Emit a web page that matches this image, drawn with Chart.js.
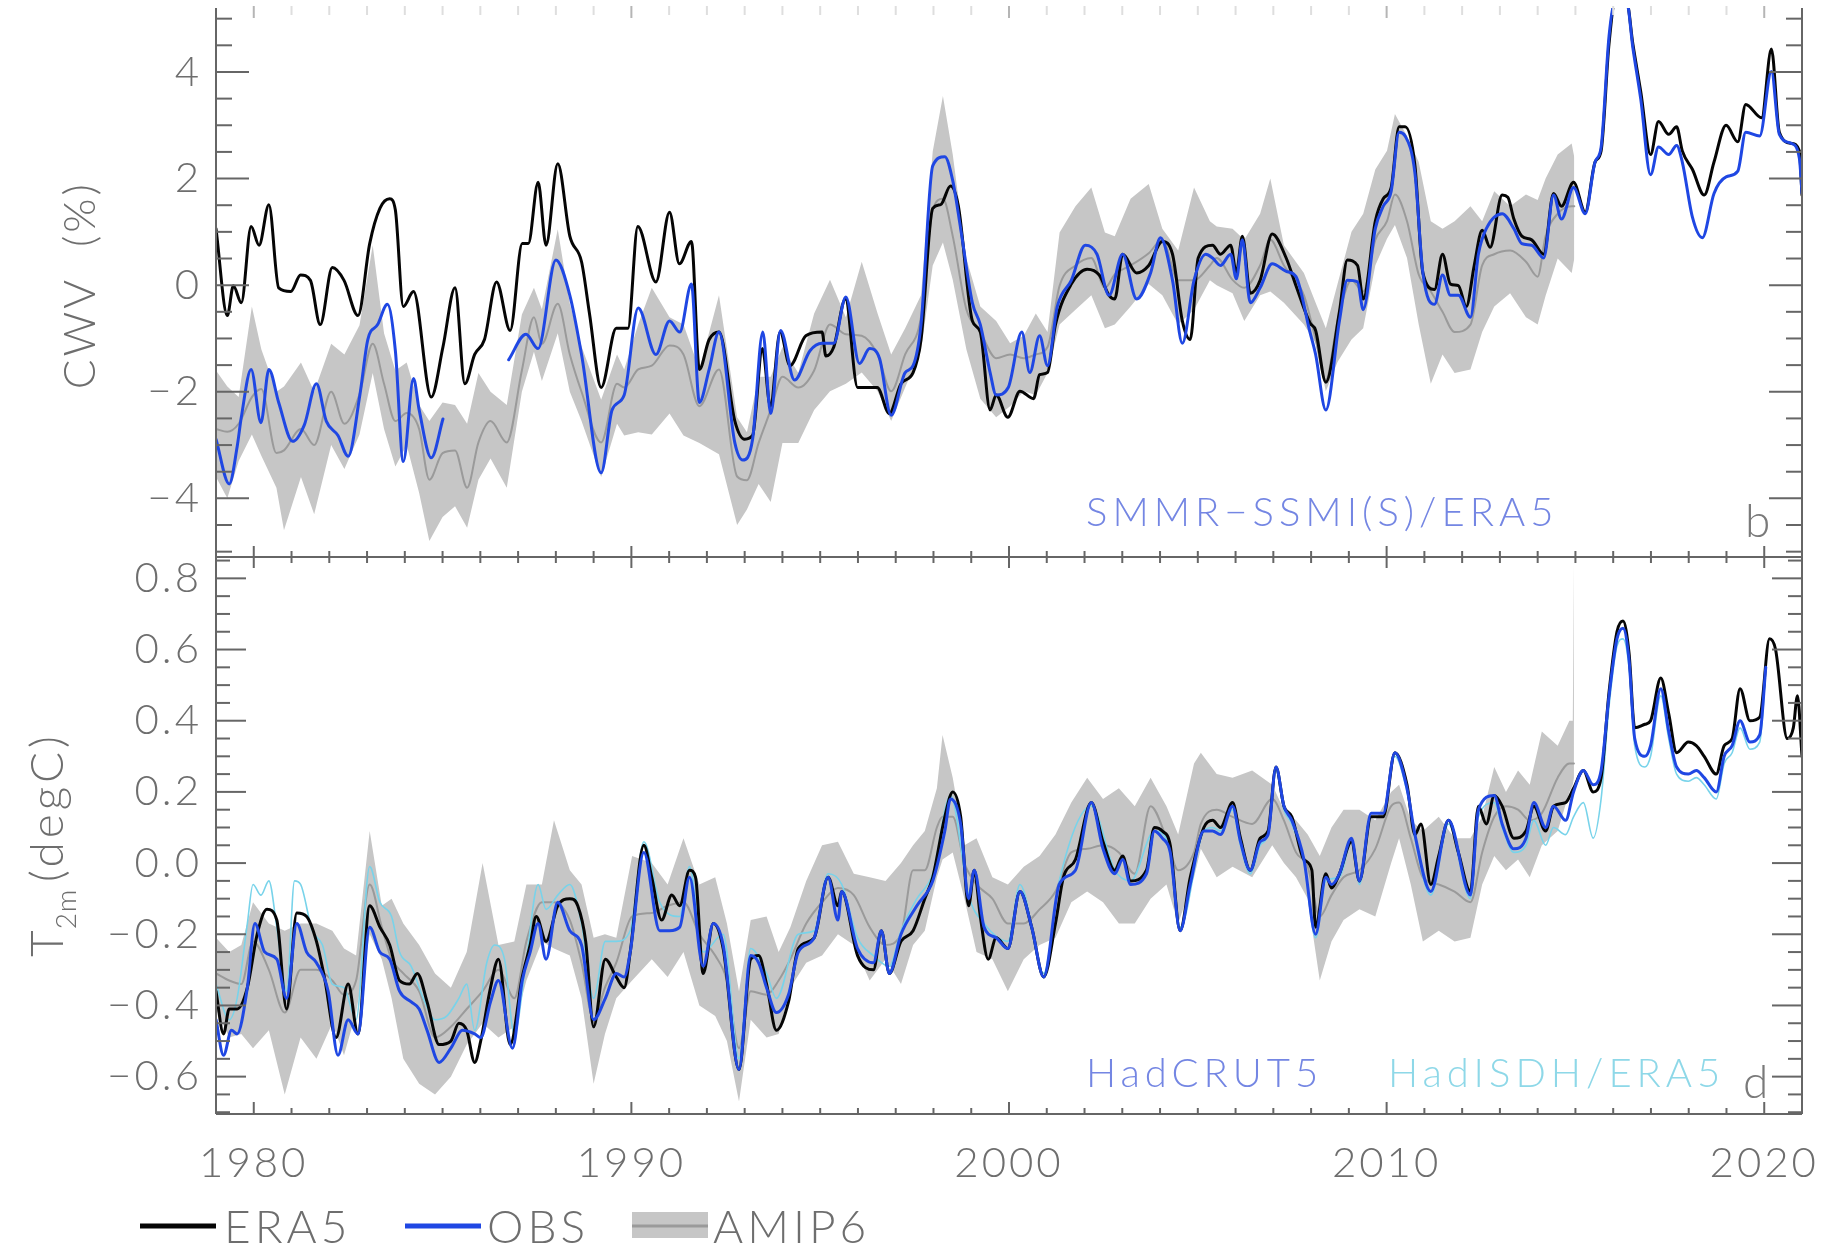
<!DOCTYPE html>
<html>
<head>
<meta charset="utf-8">
<title>CWV and T2m anomalies</title>
<script src="https://cdn.jsdelivr.net/npm/chart.js@4.4.1/dist/chart.umd.min.js"></script>
<style>
  html, body { margin: 0; padding: 0; background: #ffffff; }
  canvas { display: block; }
</style>
</head>
<body>
<canvas id="chart" width="1821" height="1246"></canvas>
<script>
// ---- axis ranges and tick labels ----
const YEAR_MIN = 1979, YEAR_MAX = 2021;
const yearTicks = [1980, 1990, 2000, 2010, 2020];
const cwvRange = [-5.1, 5.2];
const cwvTicks = [-4, -2, 0, 2, 4];
const t2mRange = [-0.705, 0.86];
const t2mTicks = [-0.6, -0.4, -0.2, 0.0, 0.2, 0.4, 0.6, 0.8];
const legendLabels = ['ERA5', 'OBS', 'AMIP6'];

// ---- panel b: column water vapour anomaly (%), [year, value] ----
const cwvEra5 = [[1979.0,1.06],[1979.3,-0.57],[1979.46,-0.01],[1979.67,-0.33],[1979.93,1.10],[1980.14,0.75],[1980.4,1.51],[1980.66,-0.05],[1980.98,-0.12],[1981.24,0.19],[1981.5,0.09],[1981.76,-0.74],[1982.08,0.33],[1982.39,0.09],[1982.76,-0.57],[1983.07,0.78],[1983.34,1.44],[1983.6,1.62],[1983.75,1.41],[1983.96,-0.40],[1984.23,-0.12],[1984.7,-2.10],[1985.01,-1.16],[1985.33,-0.05],[1985.59,-1.85],[1985.85,-1.30],[1986.11,-1.02],[1986.43,0.06],[1986.79,-0.85],[1987.11,0.78],[1987.27,0.78],[1987.53,1.93],[1987.74,0.75],[1988.05,2.28],[1988.37,0.92],[1988.68,0.44],[1988.89,-0.53],[1989.2,-1.92],[1989.6,-0.81],[1989.91,-0.81],[1990.17,1.10],[1990.65,0.06],[1991.01,1.37],[1991.27,0.40],[1991.59,0.82],[1991.8,-1.58],[1992.06,-1.02],[1992.32,-0.88],[1992.74,-2.55],[1993.0,-2.89],[1993.21,-2.82],[1993.47,-1.19],[1993.68,-2.27],[1993.94,-0.88],[1994.2,-1.51],[1994.62,-0.95],[1995.05,-0.88],[1995.15,-1.33],[1995.36,-1.16],[1995.67,-0.26],[1995.99,-1.92],[1996.51,-1.92],[1996.83,-2.41],[1997.14,-1.85],[1997.46,-1.64],[1997.67,-1.02],[1997.98,1.44],[1998.19,1.51],[1998.45,1.86],[1998.66,1.48],[1999.03,-0.67],[1999.24,-0.88],[1999.5,-2.34],[1999.66,-2.06],[1999.97,-2.48],[2000.29,-1.99],[2000.65,-2.13],[2000.81,-1.68],[2001.02,-1.64],[2001.23,-0.74],[2001.65,0.02],[2002.07,0.30],[2002.39,0.19],[2002.65,-0.19],[2002.8,-0.26],[2003.01,0.58],[2003.38,0.23],[2003.7,0.37],[2004.06,0.82],[2004.33,0.58],[2004.59,-0.67],[2004.8,-1.02],[2005.01,0.51],[2005.39,0.75],[2005.6,0.58],[2005.87,0.75],[2006.02,0.23],[2006.18,0.92],[2006.39,-0.15],[2006.65,0.09],[2006.97,0.96],[2007.34,0.51],[2007.6,-0.01],[2007.97,-0.71],[2008.12,-0.85],[2008.39,-1.82],[2008.75,-0.50],[2008.96,0.47],[2009.23,0.37],[2009.38,-0.26],[2009.7,1.20],[2009.91,1.62],[2010.12,1.83],[2010.33,2.97],[2010.49,2.97],[2010.75,2.24],[2010.96,0.23],[2011.27,-0.08],[2011.48,0.58],[2011.69,0.02],[2011.9,-0.01],[2012.11,-0.40],[2012.32,0.37],[2012.53,1.03],[2012.74,0.71],[2013.06,1.69],[2013.21,1.65],[2013.37,1.24],[2013.58,0.92],[2013.84,0.85],[2014.16,0.58],[2014.42,1.72],[2014.63,1.48],[2014.95,1.93],[2015.26,1.37],[2015.52,2.31],[2015.68,2.52],[2015.89,4.53],[2016.05,5.3],[2016.36,5.3],[2016.52,4.53],[2016.73,3.63],[2016.99,2.45],[2017.2,3.07],[2017.47,2.83],[2017.68,2.97],[2017.83,2.52],[2018.1,2.17],[2018.41,1.69],[2018.67,2.31],[2018.99,3.00],[2019.3,2.69],[2019.51,3.39],[2019.93,3.14],[2020.19,4.43],[2020.4,2.87],[2020.72,2.66],[2020.93,2.52],[2021.0,1.69]];

const cwvObs = [[1979.0,-2.89],[1979.35,-3.73],[1979.56,-3.03],[1979.67,-2.48],[1979.93,-1.58],[1980.19,-2.58],[1980.4,-1.58],[1980.66,-2.20],[1981.03,-2.93],[1981.34,-2.62],[1981.66,-1.85],[1981.92,-2.55],[1982.23,-2.82],[1982.5,-3.21],[1982.81,-2.06],[1983.02,-1.02],[1983.28,-0.74],[1983.54,-0.36],[1983.75,-1.23],[1983.96,-3.31],[1984.23,-1.75],[1984.38,-2.34],[1984.7,-3.24],[1985.01,-2.51],[1985.5,null],[1986.75,-1.40],[1987.21,-0.92],[1987.53,-1.19],[1988.0,0.47],[1988.37,-0.19],[1988.68,-1.30],[1989.2,-3.52],[1989.49,-2.34],[1989.81,-2.06],[1990.18,-0.43],[1990.65,-1.30],[1991.01,-0.67],[1991.28,-0.88],[1991.59,0.02],[1991.8,-2.20],[1992.06,-1.58],[1992.32,-0.88],[1992.74,-2.96],[1992.95,-3.28],[1993.21,-2.89],[1993.48,-0.88],[1993.69,-2.41],[1993.95,-0.85],[1994.32,-1.78],[1994.73,-1.23],[1995.05,-1.09],[1995.36,-1.09],[1995.68,-0.22],[1996.04,-1.47],[1996.31,-1.19],[1996.57,-1.37],[1996.88,-2.44],[1997.25,-1.64],[1997.46,-1.51],[1997.67,-0.74],[1997.98,2.24],[1998.3,2.41],[1998.51,1.96],[1998.72,1.06],[1999.03,-0.33],[1999.24,-0.74],[1999.5,-1.64],[1999.66,-2.06],[1999.98,-1.92],[2000.34,-0.88],[2000.55,-1.64],[2000.81,-0.95],[2001.02,-1.51],[2001.28,-0.40],[2001.65,0.09],[2002.02,0.75],[2002.33,0.58],[2002.65,-0.19],[2003.01,0.58],[2003.38,-0.26],[2003.75,0.23],[2004.01,0.89],[2004.33,0.09],[2004.59,-1.09],[2004.9,0.09],[2005.21,0.58],[2005.39,0.51],[2005.6,0.37],[2005.87,0.58],[2006.02,0.12],[2006.18,0.85],[2006.39,-0.33],[2006.65,-0.05],[2006.97,0.40],[2007.34,0.26],[2007.6,0.16],[2007.97,-0.88],[2008.12,-1.30],[2008.39,-2.34],[2008.75,-0.67],[2008.96,0.09],[2009.23,0.06],[2009.38,-0.46],[2009.7,1.06],[2009.91,1.48],[2010.12,1.76],[2010.33,2.87],[2010.49,2.80],[2010.75,2.10],[2010.96,0.23],[2011.27,-0.36],[2011.48,0.19],[2011.69,-0.19],[2011.9,-0.19],[2012.22,-0.60],[2012.43,0.58],[2012.64,1.06],[2013.06,1.34],[2013.37,1.06],[2013.58,0.78],[2013.84,0.75],[2014.16,0.51],[2014.42,1.69],[2014.63,1.24],[2014.95,1.83],[2015.26,1.34],[2015.52,2.31],[2015.68,2.59],[2015.89,4.67],[2016.05,5.3],[2016.36,5.3],[2016.52,4.46],[2016.73,3.49],[2016.99,2.07],[2017.2,2.59],[2017.47,2.45],[2017.68,2.62],[2017.83,2.31],[2018.1,1.27],[2018.36,0.89],[2018.67,1.72],[2018.99,2.03],[2019.3,2.14],[2019.51,2.87],[2019.88,2.80],[2020.19,4.01],[2020.4,2.83],[2020.72,2.66],[2020.93,2.38],[2021.0,1.72]];

// AMIP6 ensemble: [year, minimum, mean, maximum]
const cwvAmip = [[1979.0,-3.6,-2.7,-1.6],[1979.3,-4.0,-2.75,-1.9],[1979.6,-3.3,-2.6,-2.1],[1979.95,-2.8,-2.1,-0.4],[1980.2,-3.2,-1.95,-1.2],[1980.6,-3.8,-3.15,-2.0],[1980.8,-4.6,-3.1,-1.9],[1981.25,-3.6,-2.7,-1.45],[1981.6,-4.3,-3.0,-2.0],[1982.05,-3.0,-2.0,-1.1],[1982.4,-3.45,-2.6,-1.3],[1982.8,-2.8,-2.05,-0.75],[1983.15,-1.65,-1.1,0.75],[1983.45,-2.7,-1.85,-0.9],[1983.75,-3.4,-2.55,-1.6],[1984.05,-3.0,-2.4,-1.45],[1984.38,-3.9,-2.7,-2.25],[1984.65,-4.8,-3.65,-2.55],[1985.0,-4.35,-3.15,-2.2],[1985.33,-4.15,-3.1,-2.25],[1985.65,-4.55,-3.8,-2.6],[1985.95,-3.65,-2.95,-1.65],[1986.27,-3.25,-2.55,-2.0],[1986.7,-3.8,-2.95,-2.25],[1987.1,-2.0,-1.6,-0.55],[1987.42,-1.25,-0.6,-0.05],[1987.63,-1.8,-1.1,-0.45],[1988.05,-0.9,-0.35,1.05],[1988.37,-2.0,-1.3,-0.35],[1988.68,-2.55,-2.0,-1.15],[1989.2,-3.6,-2.95,-2.15],[1989.62,-2.6,-1.85,-1.3],[1989.81,-2.82,-1.92,-1.58],[1990.18,-2.76,-1.58,-0.74],[1990.54,-2.8,-1.51,-0.05],[1991.01,-2.41,-1.13,-0.6],[1991.38,-2.82,-1.3,-0.74],[1991.8,-2.96,-2.27,-1.58],[1992.32,-3.17,-1.58,-0.19],[1992.8,-4.5,-3.59,-2.48],[1993.06,-4.21,-3.66,-2.76],[1993.37,-3.73,-2.96,-1.72],[1993.69,-4.07,-2.34,-1.72],[1994.0,-2.96,-1.72,-1.16],[1994.42,-2.96,-1.92,-1.65],[1994.84,-2.34,-1.6,-0.53],[1995.26,-1.99,-0.74,0.1],[1995.68,-1.85,-0.92,-0.6],[1996.1,-1.64,-0.95,0.44],[1996.52,-1.99,-1.3,-0.53],[1996.88,-2.55,-1.99,-1.3],[1997.25,-1.92,-1.3,-0.81],[1997.67,-1.23,-0.6,-0.19],[1997.98,0.37,1.41,2.51],[1998.25,0.8,1.62,3.55],[1998.51,0.1,0.92,2.45],[1998.87,-1.2,-0.45,0.5],[1999.24,-2.13,-0.88,-0.4],[1999.66,-2.48,-1.37,-0.67],[2000.03,-2.27,-1.3,-1.09],[2000.39,-1.99,-1.37,-0.95],[2000.71,-2.06,-1.3,-0.53],[2001.02,-1.65,-1.16,-0.88],[2001.34,-0.74,-0.01,0.99],[2001.76,-0.46,0.37,1.48],[2002.18,-0.19,0.51,1.83],[2002.54,-0.81,-0.05,0.99],[2002.8,-0.74,0.2,0.92],[2003.22,-0.4,0.37,1.62],[2003.7,0.02,0.6,1.9],[2004.06,-0.19,0.85,1.06],[2004.48,-0.74,0.09,0.65],[2004.9,-0.46,0.09,1.83],[2005.32,0.09,0.37,1.2],[2005.5,0.0,0.51,1.1],[2005.92,-0.15,0.1,1.06],[2006.23,-0.67,-0.05,0.85],[2006.65,-0.19,0.37,1.34],[2006.92,-0.12,0.85,2.0],[2007.28,-0.33,0.37,0.75],[2007.81,-0.74,-0.19,0.23],[2008.12,-1.09,-1.02,-0.33],[2008.39,-1.99,-1.78,-0.81],[2008.7,-1.44,-0.67,0.02],[2009.07,-1.02,0.09,1.0],[2009.38,-0.81,-0.12,1.34],[2009.7,0.37,0.85,2.17],[2010.01,0.87,1.2,2.52],[2010.22,1.13,1.7,3.21],[2010.54,0.51,1.2,2.8],[2010.85,-0.74,0.2,2.31],[2011.17,-1.85,-0.12,1.2],[2011.48,-1.3,-0.5,1.06],[2011.8,-1.65,-0.88,1.2],[2012.22,-1.58,-0.74,1.48],[2012.53,-0.88,0.37,1.2],[2012.85,-0.4,0.58,1.76],[2013.27,-0.15,0.65,1.48],[2013.69,-0.6,0.44,1.7],[2014.0,-0.74,0.16,1.6],[2014.21,-0.2,0.92,2.0],[2014.53,0.5,1.34,2.45],[2014.9,0.23,1.48,2.66],[2014.97,0.5,1.48,2.4]];

// ---- panel d: 2 m temperature anomaly (degC), [year, value] ----
const t2mEra5 = [[1979.0,-0.36],[1979.2,-0.48],[1979.35,-0.41],[1979.56,-0.41],[1979.83,-0.35],[1980.09,-0.20],[1980.35,-0.13],[1980.61,-0.16],[1980.87,-0.41],[1981.14,-0.14],[1981.4,-0.15],[1981.66,-0.22],[1981.87,-0.32],[1982.18,-0.49],[1982.5,-0.34],[1982.76,-0.48],[1983.07,-0.12],[1983.34,-0.18],[1983.6,-0.23],[1983.86,-0.33],[1984.12,-0.34],[1984.33,-0.31],[1984.59,-0.39],[1984.91,-0.51],[1985.22,-0.50],[1985.43,-0.45],[1985.64,-0.47],[1985.85,-0.56],[1986.01,-0.50],[1986.27,-0.35],[1986.48,-0.27],[1986.79,-0.51],[1987.11,-0.32],[1987.32,-0.23],[1987.48,-0.15],[1987.74,-0.22],[1988.05,-0.12],[1988.37,-0.10],[1988.58,-0.12],[1988.79,-0.22],[1989.0,-0.46],[1989.31,-0.27],[1989.6,-0.32],[1989.81,-0.35],[1989.97,-0.25],[1990.33,0.05],[1990.54,-0.04],[1990.8,-0.16],[1991.07,-0.09],[1991.28,-0.12],[1991.54,-0.02],[1991.7,-0.04],[1991.9,-0.31],[1992.17,-0.17],[1992.43,-0.24],[1992.85,-0.58],[1993.16,-0.27],[1993.37,-0.26],[1993.58,-0.34],[1993.84,-0.47],[1994.16,-0.39],[1994.42,-0.24],[1994.84,-0.21],[1995.21,-0.04],[1995.47,-0.12],[1995.57,-0.08],[1995.99,-0.26],[1996.41,-0.30],[1996.62,-0.19],[1996.83,-0.31],[1997.14,-0.22],[1997.46,-0.19],[1997.77,-0.10],[1997.98,-0.04],[1998.3,0.13],[1998.51,0.20],[1998.72,0.13],[1998.93,-0.12],[1999.08,-0.02],[1999.24,-0.15],[1999.45,-0.27],[1999.66,-0.21],[1999.97,-0.24],[2000.29,-0.08],[2000.6,-0.18],[2000.92,-0.32],[2001.23,-0.17],[2001.44,-0.04],[2001.76,0.01],[2002.18,0.17],[2002.49,0.06],[2002.8,-0.02],[2003.01,0.02],[2003.22,-0.05],[2003.64,-0.02],[2003.85,0.10],[2004.06,0.09],[2004.27,0.05],[2004.53,-0.19],[2004.8,-0.04],[2005.16,0.10],[2005.39,0.12],[2005.6,0.10],[2005.92,0.17],[2006.13,0.07],[2006.39,-0.02],[2006.65,0.07],[2006.86,0.09],[2007.07,0.27],[2007.28,0.16],[2007.49,0.13],[2007.81,0.01],[2008.02,-0.02],[2008.12,-0.18],[2008.39,-0.03],[2008.54,-0.07],[2008.75,-0.03],[2009.07,0.06],[2009.28,-0.05],[2009.59,0.13],[2009.91,0.13],[2010.22,0.31],[2010.54,0.22],[2010.75,0.08],[2010.91,0.11],[2011.17,-0.06],[2011.38,0.02],[2011.64,0.12],[2011.9,0.03],[2012.22,-0.08],[2012.43,0.16],[2012.64,0.11],[2012.85,0.19],[2013.06,0.16],[2013.37,0.07],[2013.69,0.09],[2013.9,0.16],[2014.21,0.09],[2014.42,0.16],[2014.74,0.17],[2014.95,0.21],[2015.21,0.26],[2015.47,0.20],[2015.68,0.24],[2015.89,0.48],[2016.1,0.65],[2016.26,0.68],[2016.42,0.59],[2016.57,0.38],[2016.84,0.39],[2016.99,0.40],[2017.26,0.52],[2017.47,0.42],[2017.68,0.31],[2017.99,0.34],[2018.2,0.33],[2018.41,0.30],[2018.73,0.25],[2018.94,0.33],[2019.15,0.35],[2019.36,0.49],[2019.62,0.40],[2019.88,0.41],[2020.14,0.63],[2020.3,0.60],[2020.61,0.35],[2020.77,0.38],[2020.88,0.47],[2021.0,0.30]];

const t2mHadcrut = [[1979.0,-0.44],[1979.2,-0.54],[1979.41,-0.47],[1979.56,-0.48],[1979.83,-0.35],[1980.03,-0.17],[1980.29,-0.25],[1980.61,-0.27],[1980.87,-0.38],[1981.14,-0.17],[1981.4,-0.25],[1981.66,-0.28],[1981.97,-0.36],[1982.23,-0.54],[1982.5,-0.44],[1982.76,-0.48],[1983.07,-0.18],[1983.34,-0.25],[1983.6,-0.27],[1983.86,-0.36],[1984.17,-0.39],[1984.38,-0.41],[1984.59,-0.47],[1984.91,-0.56],[1985.22,-0.52],[1985.53,-0.47],[1985.85,-0.48],[1986.01,-0.49],[1986.27,-0.39],[1986.48,-0.33],[1986.85,-0.52],[1987.11,-0.33],[1987.32,-0.25],[1987.53,-0.17],[1987.74,-0.27],[1988.05,-0.11],[1988.37,-0.19],[1988.68,-0.23],[1989.0,-0.44],[1989.31,-0.38],[1989.6,-0.31],[1989.81,-0.32],[1989.97,-0.25],[1990.33,0.03],[1990.75,-0.19],[1991.01,-0.19],[1991.28,-0.18],[1991.54,-0.04],[1991.9,-0.29],[1992.17,-0.17],[1992.43,-0.23],[1992.85,-0.58],[1993.16,-0.26],[1993.37,-0.28],[1993.58,-0.35],[1993.84,-0.42],[1994.16,-0.37],[1994.42,-0.25],[1994.84,-0.21],[1995.21,-0.04],[1995.47,-0.16],[1995.57,-0.08],[1995.99,-0.24],[1996.41,-0.28],[1996.62,-0.19],[1996.83,-0.31],[1997.14,-0.20],[1997.56,-0.12],[1997.98,-0.05],[1998.3,0.09],[1998.45,0.18],[1998.72,0.11],[1998.93,-0.10],[1999.08,-0.02],[1999.34,-0.18],[1999.66,-0.21],[1999.97,-0.24],[2000.29,-0.08],[2000.6,-0.18],[2000.92,-0.32],[2001.33,-0.06],[2001.76,-0.02],[2002.18,0.17],[2002.49,0.04],[2002.8,-0.03],[2003.01,0.01],[2003.22,-0.06],[2003.64,-0.03],[2003.85,0.09],[2004.06,0.07],[2004.27,0.03],[2004.53,-0.19],[2004.8,-0.06],[2005.16,0.09],[2005.39,0.09],[2005.6,0.08],[2005.92,0.16],[2006.13,0.06],[2006.39,-0.02],[2006.65,0.06],[2006.86,0.08],[2007.07,0.27],[2007.28,0.16],[2007.49,0.12],[2007.81,0.01],[2008.12,-0.20],[2008.39,-0.04],[2008.54,-0.06],[2008.75,-0.03],[2009.07,0.07],[2009.28,-0.05],[2009.59,0.14],[2009.91,0.14],[2010.22,0.31],[2010.54,0.21],[2010.75,0.08],[2011.17,-0.08],[2011.64,0.12],[2012.22,-0.09],[2012.43,0.15],[2012.85,0.19],[2013.06,0.11],[2013.37,0.04],[2013.69,0.07],[2013.9,0.17],[2014.21,0.10],[2014.42,0.16],[2014.74,0.12],[2014.95,0.20],[2015.21,0.26],[2015.47,0.22],[2015.68,0.26],[2015.89,0.47],[2016.1,0.63],[2016.26,0.66],[2016.42,0.57],[2016.57,0.35],[2016.84,0.30],[2016.99,0.33],[2017.26,0.49],[2017.47,0.37],[2017.68,0.27],[2017.99,0.25],[2018.2,0.26],[2018.41,0.24],[2018.73,0.20],[2018.94,0.30],[2019.15,0.33],[2019.36,0.40],[2019.62,0.34],[2019.88,0.36],[2020.04,0.55]];

const t2mHadisdh = [[1979.0,-0.34],[1979.35,-0.44],[1979.56,-0.38],[1979.83,-0.17],[1979.98,-0.06],[1980.19,-0.09],[1980.4,-0.05],[1980.61,-0.18],[1980.87,-0.36],[1981.08,-0.05],[1981.24,-0.06],[1981.55,-0.19],[1981.82,-0.23],[1982.08,-0.34],[1982.39,-0.35],[1982.71,-0.44],[1983.07,-0.01],[1983.34,-0.11],[1983.65,-0.15],[1983.86,-0.25],[1984.17,-0.29],[1984.49,-0.38],[1984.8,-0.44],[1985.11,-0.43],[1985.43,-0.38],[1985.64,-0.34],[1985.85,-0.47],[1986.17,-0.28],[1986.38,-0.23],[1986.64,-0.27],[1986.9,-0.48],[1987.22,-0.27],[1987.53,-0.06],[1987.74,-0.13],[1988.05,-0.09],[1988.37,-0.06],[1988.68,-0.17],[1989.0,-0.38],[1989.31,-0.22],[1989.6,-0.22],[1989.97,-0.19],[1990.33,0.06],[1990.75,-0.11],[1991.28,-0.15],[1991.54,-0.01],[1991.9,-0.25],[1992.43,-0.20],[1992.85,-0.55],[1993.16,-0.24],[1993.58,-0.31],[1993.84,-0.38],[1994.42,-0.20],[1994.84,-0.19],[1995.21,-0.03],[1995.57,-0.06],[1995.99,-0.21],[1996.41,-0.26],[1996.83,-0.29],[1997.14,-0.19],[1997.56,-0.10],[1997.98,-0.03],[1998.45,0.19],[1998.93,-0.09],[1999.34,-0.17],[1999.97,-0.22],[2000.29,-0.06],[2000.92,-0.31],[2001.33,-0.05],[2002.18,0.16],[2002.8,-0.02],[2003.22,-0.05],[2003.85,0.09],[2004.27,0.04],[2004.53,-0.18],[2005.16,0.09],[2005.39,0.10],[2005.6,0.09],[2005.92,0.15],[2006.13,0.05],[2006.39,-0.03],[2006.65,0.05],[2006.86,0.08],[2007.07,0.26],[2007.28,0.15],[2007.49,0.11],[2007.81,0.0],[2008.12,-0.21],[2008.39,-0.05],[2008.75,-0.04],[2009.07,0.06],[2009.28,-0.06],[2009.59,0.13],[2009.91,0.13],[2010.22,0.30],[2010.54,0.20],[2010.75,0.07],[2011.17,-0.09],[2011.64,0.11],[2012.22,-0.10],[2012.43,0.13],[2012.85,0.17],[2013.06,0.10],[2013.37,0.03],[2013.69,0.05],[2013.9,0.12],[2014.21,0.05],[2014.42,0.10],[2014.74,0.08],[2014.95,0.13],[2015.21,0.17],[2015.47,0.07],[2015.68,0.18],[2015.89,0.44],[2016.1,0.61],[2016.26,0.63],[2016.42,0.55],[2016.57,0.33],[2016.84,0.27],[2016.99,0.30],[2017.26,0.47],[2017.47,0.35],[2017.68,0.25],[2017.99,0.23],[2018.2,0.24],[2018.41,0.22],[2018.73,0.18],[2018.94,0.28],[2019.15,0.31],[2019.36,0.38],[2019.62,0.32],[2019.88,0.34],[2020.03,0.52]];

// AMIP6 ensemble: [year, minimum, mean, maximum]
const t2mAmip = [[1979.0,-0.41,-0.31,-0.21],[1979.35,-0.49,-0.33,-0.25],[1979.67,-0.48,-0.34,-0.23],[1979.98,-0.52,-0.22,-0.11],[1980.4,-0.47,-0.30,-0.17],[1980.82,-0.65,-0.42,-0.19],[1981.24,-0.49,-0.30,-0.17],[1981.66,-0.55,-0.30,-0.17],[1982.08,-0.45,-0.33,-0.19],[1982.39,-0.54,-0.37,-0.24],[1982.71,-0.42,-0.33,-0.26],[1983.07,-0.20,-0.06,0.09],[1983.39,-0.27,-0.18,-0.12],[1983.65,-0.38,-0.27,-0.10],[1983.96,-0.55,-0.31,-0.17],[1984.38,-0.62,-0.36,-0.23],[1984.8,-0.65,-0.49,-0.31],[1985.22,-0.60,-0.46,-0.35],[1985.64,-0.51,-0.41,-0.25],[1986.06,-0.45,-0.36,0.0],[1986.48,-0.49,-0.30,-0.23],[1986.9,-0.46,-0.38,-0.22],[1987.22,-0.33,-0.22,-0.06],[1987.63,-0.22,-0.11,-0.06],[1987.95,-0.24,-0.11,0.12],[1988.37,-0.26,-0.16,-0.02],[1988.68,-0.38,-0.28,-0.06],[1989.0,-0.62,-0.44,-0.21],[1989.3,-0.48,-0.35,-0.20],[1989.6,-0.38,-0.28,-0.21],[1990.02,-0.33,-0.15,0.02],[1990.54,-0.27,-0.14,0.0],[1990.96,-0.32,-0.12,-0.06],[1991.38,-0.25,-0.11,0.07],[1991.8,-0.40,-0.20,-0.06],[1992.22,-0.43,-0.26,-0.04],[1992.53,-0.50,-0.33,-0.17],[1992.85,-0.67,-0.52,-0.36],[1993.16,-0.44,-0.36,-0.16],[1993.58,-0.49,-0.37,-0.15],[1993.9,-0.48,-0.33,-0.25],[1994.21,-0.35,-0.27,-0.18],[1994.63,-0.28,-0.17,-0.05],[1995.05,-0.26,-0.11,0.05],[1995.47,-0.20,-0.07,0.06],[1995.89,-0.23,-0.09,-0.03],[1996.31,-0.33,-0.18,-0.04],[1996.73,-0.27,-0.23,-0.05],[1997.14,-0.34,-0.20,0.0],[1997.46,-0.23,-0.02,0.05],[1997.77,-0.19,-0.02,0.09],[1998.09,-0.04,0.10,0.21],[1998.24,0.01,0.13,0.36],[1998.51,0.03,0.13,0.24],[1998.82,-0.10,0.0,0.05],[1999.14,-0.25,-0.06,0.07],[1999.56,-0.27,-0.10,-0.04],[1999.97,-0.36,-0.17,-0.06],[2000.39,-0.27,-0.17,-0.01],[2000.81,-0.23,-0.13,0.02],[2001.23,-0.21,-0.08,0.08],[2001.65,-0.11,0.03,0.17],[2002.07,-0.08,0.04,0.24],[2002.49,-0.11,0.05,0.18],[2002.91,-0.17,0.03,0.21],[2003.33,-0.17,-0.03,0.16],[2003.75,-0.10,0.16,0.24],[2004.17,-0.06,0.07,0.16],[2004.48,-0.17,-0.02,0.08],[2004.9,-0.04,0.03,0.28],[2005.08,0.04,0.11,0.31],[2005.5,-0.04,0.15,0.25],[2005.92,-0.01,0.13,0.24],[2006.44,-0.04,0.11,0.26],[2006.97,0.05,0.18,0.22],[2007.28,0.0,0.12,0.15],[2007.6,-0.04,0.03,0.12],[2007.91,-0.10,-0.01,0.08],[2008.23,-0.33,-0.15,0.02],[2008.54,-0.22,-0.09,0.10],[2008.86,-0.16,-0.04,0.15],[2009.28,-0.13,-0.02,0.15],[2009.7,-0.15,0.04,0.12],[2010.12,0.0,0.16,0.20],[2010.33,0.07,0.17,0.22],[2010.64,-0.06,0.07,0.12],[2010.96,-0.22,-0.04,0.09],[2011.38,-0.19,-0.06,0.13],[2011.8,-0.22,-0.08,0.07],[2012.22,-0.21,-0.11,0.07],[2012.53,-0.06,0.03,0.13],[2012.85,0.02,0.13,0.27],[2013.16,-0.02,0.16,0.20],[2013.48,0.01,0.15,0.26],[2013.79,-0.04,0.12,0.22],[2014.11,0.05,0.14,0.37],[2014.53,0.09,0.24,0.33],[2014.84,0.20,0.28,0.40],[2014.93,0.22,0.28,0.40],[2014.96,0.24,0.28,0.84]];

// ---- styling ----
const AXIS_COLOR = '#666666';
const TEXT_COLOR = '#6e6e6e';
const ERA5_COLOR = '#050505';
const OBS_COLOR = '#1f47e3';
const ISDH_COLOR = '#78d3ea';
const BAND_COLOR = '#c6c6c6';
const MEAN_COLOR = '#9a9a9a';
const NOTE_BLUE = '#7486e3';
const NOTE_CYAN = '#8ed8e8';
const FAMILY = 'Lato, "Open Sans", sans-serif';
const tickFont = { family: FAMILY, size: 42, weight: '300' };

const asPoints = rows => rows.map(r => ({ x: r[0], y: r[1] }));
const column = (rows, i) => rows.map(r => ({ x: r[0], y: r[i] }));

function lineSet(label, data, axis, color, width, order) {
  return { label, data, yAxisID: axis, borderColor: color, borderWidth: width,
           pointRadius: 0, fill: false, cubicInterpolationMode: 'monotone', order,
           borderJoinStyle: 'round', borderCapStyle: 'round' };
}
function bandSets(rows, axis) {
  return [
    { label: 'AMIP6 min', data: column(rows, 1), yAxisID: axis, borderColor: 'rgba(0,0,0,0)',
      borderWidth: 1, pointRadius: 0, fill: false, tension: 0, order: 20 },
    { label: 'AMIP6 max', data: column(rows, 3), yAxisID: axis, borderColor: 'rgba(0,0,0,0)',
      borderWidth: 1, pointRadius: 0, fill: '-1', tension: 0, backgroundColor: BAND_COLOR, order: 20 },
    lineSet('AMIP6', column(rows, 2), axis, MEAN_COLOR, 2, 15)
  ];
}

const minusFmt = (v, digits) => (v < 0 ? '\u2212' : '') + Math.abs(v).toFixed(digits);

function yScale(range, ticks, digits, weight, stackWeight) {
  return {
    type: 'linear', position: 'left', stack: 'panels', stackWeight, weight,
    min: range[0], max: range[1],
    afterBuildTicks: s => { s.ticks = ticks.map(v => ({ value: v })); },
    afterFit: s => { s.width = 216; s.paddingTop = 0; s.paddingBottom = 0; },
    grid: { display: false, drawTicks: false },
    border: { display: false },
    ticks: { font: tickFont, color: TEXT_COLOR, padding: 14, autoSkip: false,
             callback: v => minusFmt(v, digits) }
  };
}

// frame, inward tick marks, titles, panel notes and legend
const decorations = {
  id: 'decorations',
  beforeDraw(chart) { chart.ctx.letterSpacing = '3px'; },
  afterDraw(chart) {
    const { ctx, chartArea: a, scales } = chart;
    const x = scales.x, yT = scales.yT, yB = scales.yB;
    const sep = yT.bottom;
    ctx.save();
    ctx.letterSpacing = '0px';
    ctx.lineCap = 'butt';
    const seg = (x1, y1, x2, y2) => { ctx.beginPath(); ctx.moveTo(x1, y1); ctx.lineTo(x2, y2); ctx.stroke(); };

    ctx.strokeStyle = AXIS_COLOR;
    ctx.lineWidth = 2;
    seg(a.left, a.top, a.left, a.bottom);
    seg(a.right, a.top, a.right, a.bottom);
    seg(a.left, a.bottom, a.right, a.bottom);
    seg(a.left, sep, a.right, sep);

    // y minor/major ticks on both sides
    function yMarks(scale, step, majorEvery, majorLen, minorLen) {
      const k0 = Math.ceil(scale.min / step - 1e-9), k1 = Math.floor(scale.max / step + 1e-9);
      for (let k = k0; k <= k1; k++) {
        const py = scale.getPixelForValue(k * step);
        const len = (k % majorEvery === 0) ? majorLen : minorLen;
        seg(a.left, py, a.left + len, py);
        seg(a.right, py, a.right - len, py);
      }
    }
    yMarks(yT, 0.5, 4, 33, 16);
    yMarks(yB, 0.05, 4, 30, 14);

    // year ticks: bottom axis, panel separator, faint top edge
    for (let yr = YEAR_MIN + 1; yr < YEAR_MAX; yr++) {
      const px = x.getPixelForValue(yr);
      const major = yr % 10 === 0;
      ctx.strokeStyle = AXIS_COLOR;
      seg(px, a.bottom, px, a.bottom - (major ? 12 : 6));
      seg(px, sep - (major ? 11 : 6), px, sep + (major ? 11 : 6));
      ctx.strokeStyle = major ? '#b5b5b5' : '#dedede';
      seg(px, a.top - 2, px, a.top + (major ? 10 : 7));
    }

    // axis titles
    ctx.fillStyle = TEXT_COLOR;
    ctx.letterSpacing = '3px';
    ctx.textBaseline = 'alphabetic';
    ctx.save();
    ctx.translate(95, yT.getPixelForValue(0));
    ctx.rotate(-Math.PI / 2);
    ctx.font = `300 44px ${FAMILY}`;
    ctx.textAlign = 'center';
    ctx.fillText('CWV  (%)', 0, 0);
    ctx.restore();

    ctx.save();
    ctx.translate(63, 957);
    ctx.rotate(-Math.PI / 2);
    ctx.textAlign = 'left';
    ctx.font = `300 46px ${FAMILY}`;
    ctx.fillText('T', 0, 0);
    const u = ctx.measureText('T').width;
    ctx.font = `300 28px ${FAMILY}`;
    ctx.letterSpacing = '1px';
    ctx.fillText('2m', u - 2, 13);
    ctx.font = `300 46px ${FAMILY}`;
    ctx.letterSpacing = '4px';
    ctx.fillText('(degC)', 75, 0);
    ctx.restore();

    // panel notes
    ctx.textAlign = 'left';
    ctx.font = `300 40px ${FAMILY}`;
    ctx.letterSpacing = '5px';
    ctx.fillStyle = NOTE_BLUE;
    ctx.fillText('SMMR\u2212SSMI(S)/ERA5', 1086, 526);
    ctx.fillText('HadCRUT5', 1086, 1087);
    ctx.fillStyle = NOTE_CYAN;
    ctx.fillText('HadISDH/ERA5', 1388, 1087);
    ctx.fillStyle = '#7a7a7a';
    ctx.font = `300 46px ${FAMILY}`;
    ctx.letterSpacing = '0px';
    ctx.fillText('b', 1745, 537);
    ctx.fillText('d', 1743, 1098);

    // legend
    const ly = 1226;
    ctx.font = `300 46px ${FAMILY}`;
    ctx.letterSpacing = '4px';
    ctx.fillStyle = TEXT_COLOR;
    ctx.lineWidth = 5;
    ctx.strokeStyle = ERA5_COLOR;
    seg(140, ly, 216, ly);
    ctx.fillText(legendLabels[0], 224, 1243);
    ctx.strokeStyle = OBS_COLOR;
    seg(405, ly, 481, ly);
    ctx.fillText(legendLabels[1], 487, 1243);
    ctx.fillStyle = BAND_COLOR;
    ctx.fillRect(632, 1212, 76, 26);
    ctx.strokeStyle = MEAN_COLOR;
    ctx.lineWidth = 3;
    seg(632, ly, 708, ly);
    ctx.fillStyle = TEXT_COLOR;
    ctx.fillText(legendLabels[2], 713, 1243);
    ctx.restore();
  }
};

new Chart(document.getElementById('chart'), {
  type: 'line',
  data: {
    datasets: [
      ...bandSets(cwvAmip, 'yT'),
      lineSet('ERA5', asPoints(cwvEra5), 'yT', ERA5_COLOR, 3, 10),
      lineSet('OBS', asPoints(cwvObs), 'yT', OBS_COLOR, 3, 8),
      ...bandSets(t2mAmip, 'yB'),
      lineSet('HadISDH/ERA5', asPoints(t2mHadisdh), 'yB', ISDH_COLOR, 1.6, 12),
      lineSet('ERA5', asPoints(t2mEra5), 'yB', ERA5_COLOR, 3, 10),
      lineSet('HadCRUT5', asPoints(t2mHadcrut), 'yB', OBS_COLOR, 3, 8)
    ]
  },
  options: {
    responsive: false,
    animation: false,
    devicePixelRatio: 1,
    events: [],
    spanGaps: false,
    layout: { padding: { top: 8, right: 19, bottom: 0, left: 0 } },
    plugins: { legend: { display: false }, tooltip: { enabled: false } },
    scales: {
      x: {
        type: 'linear', position: 'bottom', min: YEAR_MIN, max: YEAR_MAX,
        afterBuildTicks: s => { s.ticks = yearTicks.map(v => ({ value: v })); },
        afterFit: s => { s.height = 132; s.paddingLeft = 0; s.paddingRight = 0; },
        grid: { display: false, drawTicks: false },
        border: { display: false },
        ticks: { font: tickFont, color: TEXT_COLOR, padding: 24, maxRotation: 0,
                 autoSkip: false, callback: v => String(v) }
      },
      yT: yScale(cwvRange, cwvTicks, 0, 1, 549),
      yB: yScale(t2mRange, t2mTicks, 1, 0, 557)
    }
  },
  plugins: [decorations]
});
</script>
</body>
</html>
